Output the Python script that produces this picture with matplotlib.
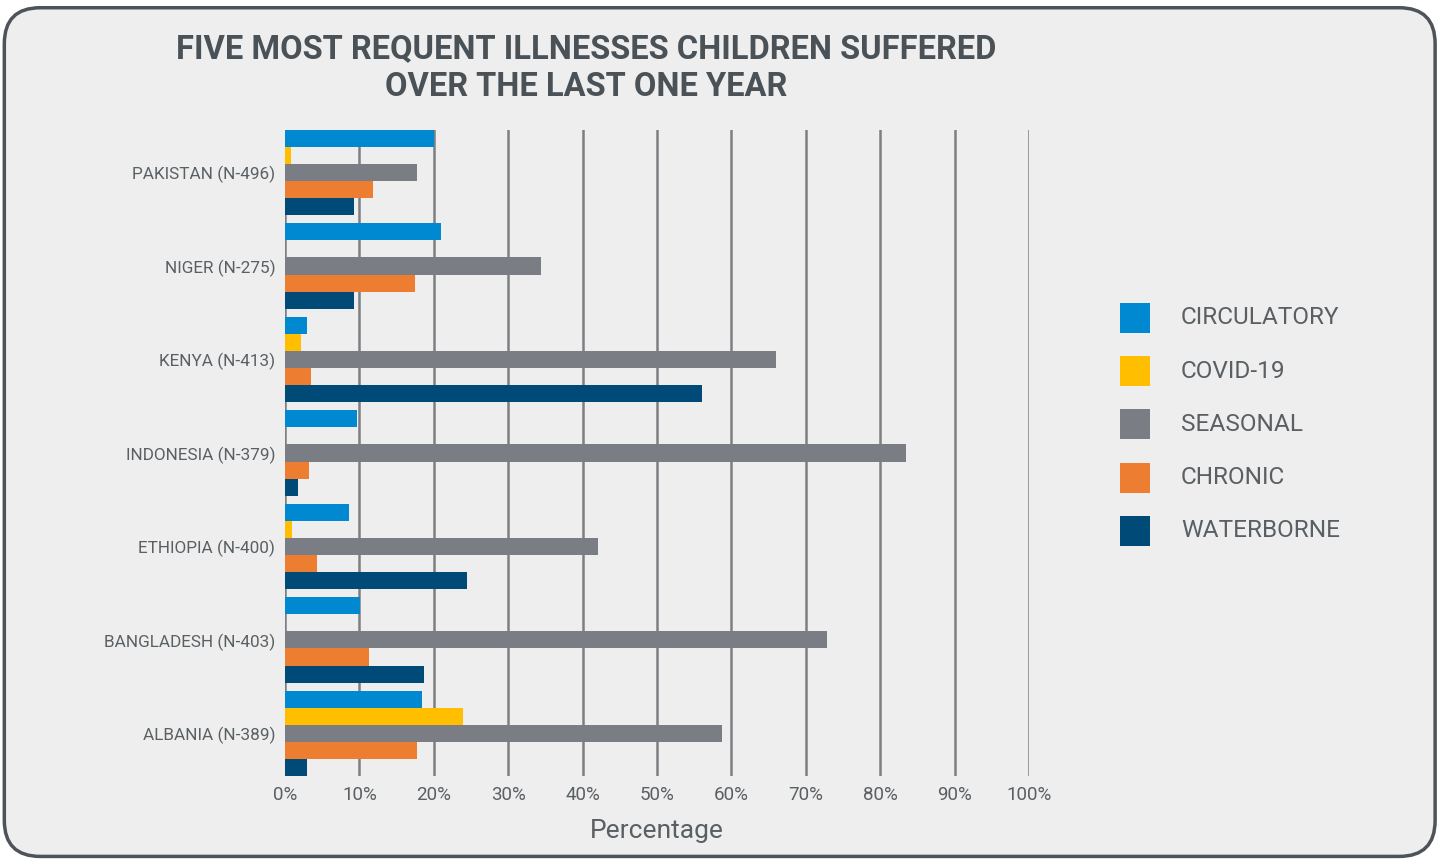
import numpy as np
import matplotlib.pyplot as plt
from matplotlib.patches import FancyBboxPatch, Rectangle

# Survey results, share of children per illness type (%)
countries = ["PAKISTAN (N-496)", "NIGER (N-275)", "KENYA (N-413)", "INDONESIA (N-379)",
             "ETHIOPIA (N-400)", "BANGLADESH (N-403)", "ALBANIA (N-389)"]
circulatory = [20.0, 20.9, 2.9, 9.7, 8.6, 10.1, 18.4]
covid19 = [0.8, 0.0, 2.2, 0.0, 1.0, 0.0, 23.9]
seasonal = [17.8, 34.4, 66.0, 83.4, 42.1, 72.8, 58.8]
chronic = [11.8, 17.5, 3.5, 3.2, 4.3, 11.3, 17.8]
waterborne = [9.3, 9.3, 56.1, 1.8, 24.4, 18.7, 2.9]

series = ["CIRCULATORY", "COVID-19", "SEASONAL", "CHRONIC", "WATERBORNE"]
colors = ["#0088d1", "#ffbf00", "#7a7d84", "#ed7d31", "#004a77"]
values = [circulatory, covid19, seasonal, chronic, waterborne]

bg = "#edeeed"
text_col = "#5a5f64"
plt.rcParams['font.family'] = ['Roboto', 'DejaVu Sans']

fig = plt.figure(figsize=(14.38, 8.59), dpi=100)
fig.patch.set_facecolor("white")

# rounded panel behind the chart
panel = FancyBboxPatch((0.003, 0.003), 0.995, 0.988,
                       boxstyle="round,pad=0,rounding_size=0.025",
                       transform=fig.transFigure, facecolor=bg,
                       edgecolor="#4d5358", linewidth=2.5, zorder=-5,
                       mutation_aspect=1438 / 859)
fig.patches.append(panel)

ax = fig.add_axes([0.1982, 0.0966, 0.5174, 0.7521])
ax.set_facecolor("none")

h = 0.182
y = np.arange(len(countries))
for i, (name, vals, c) in enumerate(zip(series, values, colors)):
    ax.barh(y + (i - 2) * h, vals, height=h, color=c, label=name, zorder=3)

for gx in range(0, 101, 10):
    ax.axvline(gx, color="#7d7f83", linewidth=1.8, zorder=1)

ax.set_xlim(0, 100)
ax.set_ylim(len(countries) - 1 + 2.5 * h, -2.5 * h)
ax.set_yticks(y)
ax.set_yticklabels(countries, fontsize=12.3, color=text_col)
ax.set_xticks(range(0, 101, 10))
ax.set_xticklabels([f"{v}%" for v in range(0, 101, 10)], fontsize=13.5, color=text_col)
ax.tick_params(axis="y", length=0, pad=7)
ax.tick_params(axis="x", length=0, pad=7)
for s in ax.spines.values():
    s.set_visible(False)
ax.set_xlabel("Percentage", fontsize=19, color=text_col, labelpad=11)

# title
fig.text(0.4075, 0.943, "FIVE MOST REQUENT ILLNESSES CHILDREN SUFFERED",
         ha="center", va="center", fontsize=23.5, fontweight="bold", color="#4a5157")
fig.text(0.4075, 0.899, "OVER THE LAST ONE YEAR",
         ha="center", va="center", fontsize=23.5, fontweight="bold", color="#4a5157")

# legend drawn as swatches + labels
for i, (name, c) in enumerate(zip(series, colors)):
    yc = 318 + i * 53.2
    fig.patches.append(Rectangle((1120 / 1438, 1 - (yc + 15) / 859), 30 / 1438, 30 / 859,
                                 transform=fig.transFigure, facecolor=c, edgecolor="none"))
    fig.text(1181 / 1438, 1 - yc / 859, name, ha="left", va="center",
             fontsize=17.6, color=text_col)

fig.savefig("out.png", dpi=100, facecolor=fig.get_facecolor())
